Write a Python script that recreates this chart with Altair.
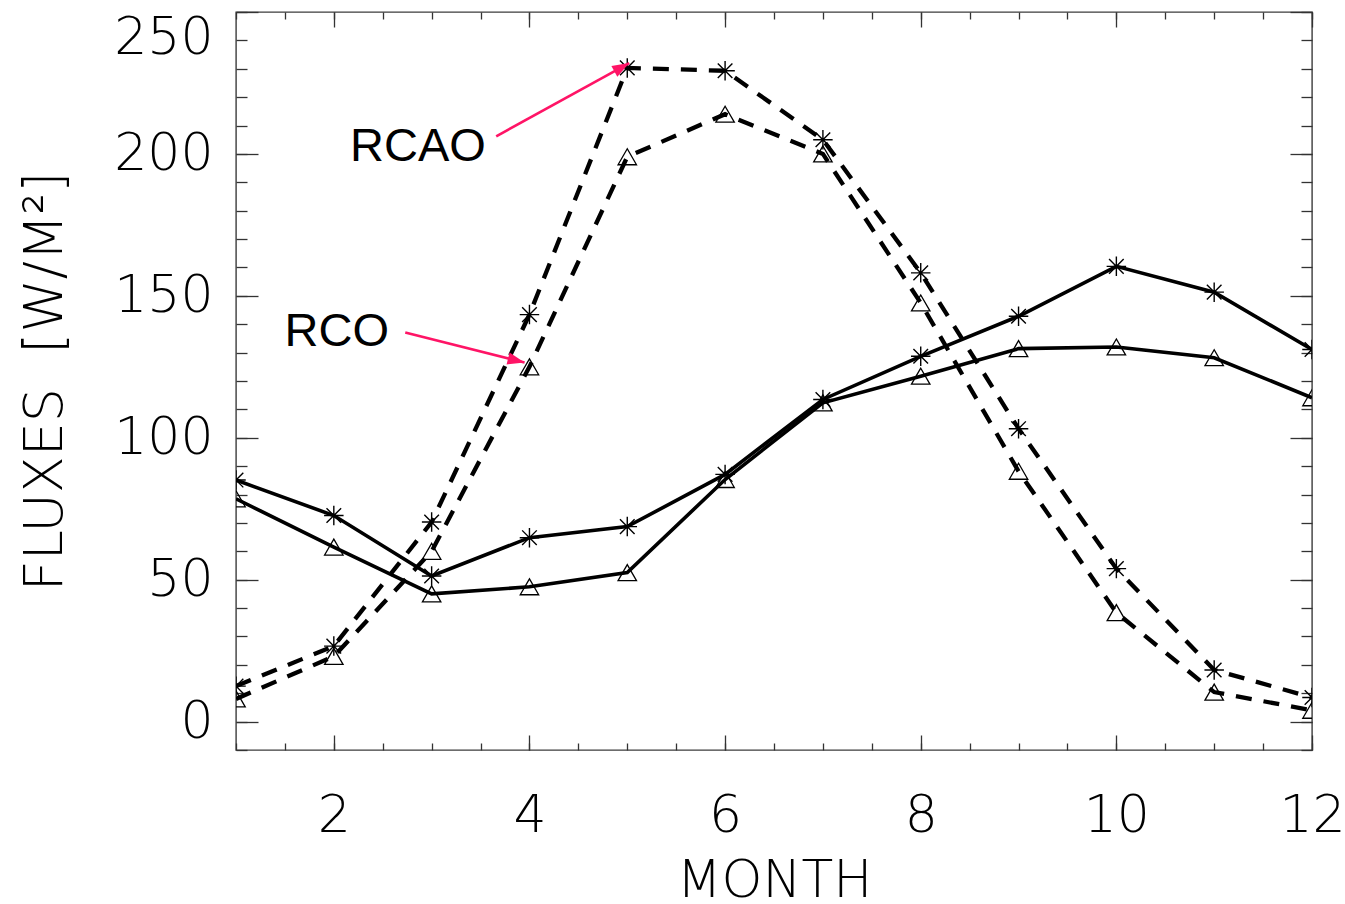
import altair as alt
import pandas as pd

# ---- data ----
months = list(range(1, 13))
dashed_rcao = [12.5, 26.6, 70.3, 143.4, 230.3, 229.3, 205.0, 158.1, 103.2, 53.9, 18.2, 8.5]
dashed_rco = [8.0, 23.0, 60.0, 125.0, 199.0, 214.0, 200.0, 147.5, 88.2, 38.4, 10.4, 4.0]
solid_rcao = [85.1, 72.6, 51.3, 64.8, 68.7, 87.1, 113.5, 128.7, 142.8, 160.4, 151.3, 131.1]
solid_rco = [78.5, 61.5, 45.0, 47.5, 52.5, 85.3, 112.3, 121.7, 131.4, 132.0, 128.2, 114.1]

x_major = [2, 4, 6, 8, 10, 12]
x_minor = [1 + 0.5 * i for i in range(23)]
y_major = [0, 50, 100, 150, 200, 250]
y_minor = [-10 + 10 * i for i in range(27)]

label_text = ["RCAO", "RCO"]
label_month = [2.86, 2.03]
label_flux = [202.6, 137.4]
arrow_start_month = [3.66, 2.73]
arrow_start_flux = [206.2, 137.1]
arrow_end_month = [5.02, 3.95]
arrow_end_flux = [232.0, 126.5]

# ---- tables ----
rows = []
for name, vals, style, marker in [
    ("RCAO dashed", dashed_rcao, "dashed", "star"),
    ("RCO dashed", dashed_rco, "dashed", "tri"),
    ("RCAO solid", solid_rcao, "solid", "star"),
    ("RCO solid", solid_rco, "solid", "tri"),
]:
    for m, v in zip(months, vals):
        rows.append({"month": m, "flux": v, "series": name, "style": style, "marker": marker})
df = pd.DataFrame(rows)

labels_df = pd.DataFrame({"text": label_text, "month": label_month, "flux": label_flux})
arrows_df = pd.DataFrame({
    "name": label_text,
    "x0": arrow_start_month, "y0": arrow_start_flux,
    "x1": arrow_end_month, "y1": arrow_end_flux,
})

XDOM = [1, 12]
YDOM = [-10, 250]
LABEL_FONT = "DejaVu Sans"
PINK = "#ff1466"

xs = alt.Scale(domain=XDOM, nice=False, zero=False)
ys = alt.Scale(domain=YDOM, nice=False, zero=False)


def xenc(axis, field="month"):
    return alt.X(f"{field}:Q", scale=xs, axis=axis)


def yenc(axis, field="flux"):
    return alt.Y(f"{field}:Q", scale=ys, axis=axis)


ax_bottom_major = alt.Axis(orient="bottom", values=x_major, offset=-15, tickSize=15,
                           labelPadding=40, labelFlush=False, title="MONTH",
                           titlePadding=14, format="d")
ax_left_major = alt.Axis(orient="left", values=y_major, offset=-22, tickSize=22,
                         labelPadding=23, labelFlush=True, title="FLUXES\u00a0\u00a0[W/M²]",
                         titlePadding=41, titleFontSize=54, format="d")
ax_top_major = alt.Axis(orient="top", values=x_major, offset=-15, tickSize=15,
                        labels=False, title=None)
ax_right_major = alt.Axis(orient="right", values=y_major, offset=-22, tickSize=22,
                          labels=False, title=None)
ax_bottom_minor = alt.Axis(orient="bottom", values=x_minor, offset=-7, tickSize=7,
                           labels=False, title=None)
ax_left_minor = alt.Axis(orient="left", values=y_minor, offset=-11, tickSize=11,
                         labels=False, title=None)
ax_top_minor = alt.Axis(orient="top", values=x_minor, offset=-7, tickSize=7,
                        labels=False, title=None)
ax_right_minor = alt.Axis(orient="right", values=y_minor, offset=-11, tickSize=11,
                          labels=False, title=None)

base = alt.Chart(df)

dashed = base.transform_filter(alt.datum.style == "dashed").mark_line(
    color="black", strokeWidth=4.3, strokeDash=[16, 12], clip=True
).encode(x=xenc(ax_bottom_major), y=yenc(ax_left_major), detail="series:N")

solid = base.transform_filter(alt.datum.style == "solid").mark_line(
    color="black", strokeWidth=3.6, clip=True
).encode(x=xenc(ax_top_major), y=yenc(ax_right_major), detail="series:N")

STAR = "M-1,0L1,0M0,-1L0,1M-0.75,-0.75L0.75,0.75M-0.75,0.75L0.75,-0.75"
stars = base.transform_filter(alt.datum.marker == "star").mark_point(
    shape=STAR, size=380, filled=False, stroke="black", strokeWidth=1.4, opacity=1, clip=True
).encode(x=xenc(ax_bottom_minor), y=yenc(ax_left_minor))

tris = base.transform_filter(alt.datum.marker == "tri").mark_point(
    shape="triangle-up", size=340, filled=False, stroke="black", strokeWidth=1.3, opacity=1, clip=True
).encode(x=xenc(ax_top_minor), y=yenc(ax_right_minor))

arrow_lines = alt.Chart(arrows_df).mark_rule(color=PINK, strokeWidth=2.6).encode(
    x=xenc(None, "x0"), y=yenc(None, "y0"), x2="x1:Q", y2="y1:Q"
)

HEAD = "M0,0L-0.36,1L0.36,1Z"
head_rcao = alt.Chart(arrows_df).transform_filter(alt.datum.name == "RCAO").mark_point(
    shape=HEAD, size=1156, filled=True, color=PINK, opacity=1, angle=61, strokeWidth=0
).encode(x=xenc(None, "x1"), y=yenc(None, "y1"))
head_rco = alt.Chart(arrows_df).transform_filter(alt.datum.name == "RCO").mark_point(
    shape=HEAD, size=1156, filled=True, color=PINK, opacity=1, angle=104, strokeWidth=0
).encode(x=xenc(None, "x1"), y=yenc(None, "y1"))

texts = alt.Chart(labels_df).mark_text(
    font="Liberation Sans", fontSize=47, color="black", align="center", baseline="middle"
).encode(x=xenc(None), y=yenc(None), text="text:N")

chart = alt.layer(
    dashed, solid, stars, tris, arrow_lines, head_rcao, head_rco, texts
).resolve_axis(x="independent", y="independent").properties(
    width=1076, height=738,
    autosize=alt.AutoSizeParams(type="none"),
    padding={"left": 236, "top": 12, "right": 33, "bottom": 154},
).configure_view(
    stroke="#3c3c3c", strokeWidth=1.4
).configure_axis(
    grid=False, domain=False, tickColor="#333333", tickWidth=1.3,
    labelFont=LABEL_FONT, labelFontSize=52, labelFontWeight=200, labelColor="black",
    titleFont=LABEL_FONT, titleFontSize=52, titleFontWeight=200, titleColor="black",
)

chart.save("out.html", embed_options={"renderer": "svg", "actions": False})
